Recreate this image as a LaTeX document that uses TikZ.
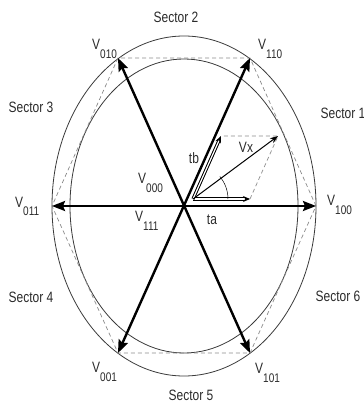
\documentclass[tikz,border=0pt]{standalone}
\usepackage{fontspec}
\setmainfont{Liberation Sans}[FakeStretch=0.8]
\usetikzlibrary{arrows.meta}

\definecolor{figink}{HTML}{2B2B2B}
\definecolor{figrim}{HTML}{3A3A3A}
\definecolor{figdash}{HTML}{8A8A8A}

\newcommand\vlab[1]{V\raisebox{-9pt}{\fontsize{12.5}{12.5}\selectfont #1}}

\begin{document}
\begin{tikzpicture}[
  x=1pt, y=1pt, font=\fontsize{15}{15}\selectfont, text=figink,
  rim/.style={draw=figrim, line width=0.8pt},
  hexedge/.style={draw=figdash, line width=0.7pt, dash pattern=on 4pt off 3pt},
  axis/.style={line width=2.4pt, {Stealth[length=13pt,width=10pt,inset=2pt]}-{Stealth[length=13pt,width=10pt,inset=2pt]}},
  comp/.style={double, double distance=1.2pt, line width=1pt,
               -{Stealth[length=7pt,width=6pt]}},
  res/.style={line width=1pt, -{Stealth[length=8pt,width=6pt]}},
  vl/.style={anchor=base west, inner sep=0pt},
  sec/.style={anchor=base, inner sep=0pt}]

  \useasboundingbox (-184,-196) rectangle (180,206);

  % ---- rims --------------------------------------------------------------
  \draw[rim] (0,0) ellipse [x radius=132, y radius=170];
  \draw[rim] (0,0) ellipse [x radius=114, y radius=147];

  % ---- hexagon vertices --------------------------------------------------
  \coordinate (v100) at (132,0);
  \coordinate (v110) at (66,148);
  \coordinate (v010) at (-66,148);
  \coordinate (v011) at (-132,0);
  \coordinate (v001) at (-66,-147);
  \coordinate (v101) at (66,-147);

  \draw[hexedge] (v100) -- (v110) -- (v010) -- (v011) -- (v001) -- (v101) -- cycle;

  % ---- switching vectors -------------------------------------------------
  \draw[axis] (v011) -- (v100);
  \draw[axis] (v101) -- (v010);
  \draw[axis] (v001) -- (v110);

  % ---- reference vector --------------------------------------------------
  \coordinate (o)  at (9,7);
  \coordinate (ta) at (66,7);
  \coordinate (tb) at (37,70);
  \coordinate (vx) at (94,70);

  \draw[hexedge] (ta) -- (vx) -- (tb);
  \draw[comp] (o) -- (ta);
  \draw[comp] (o) -- (tb);
  \draw[res] (o) -- (vx);
  \draw[line width=0.5pt] ([shift={(0:35)}]o) arc [start angle=0, end angle=40, radius=35];

  % ---- labels ------------------------------------------------------------
  \node[vl] (l010) at (-92,156) {\vlab{010}};
  \node[vl] (l110) at (74,156)  {\vlab{110}};
  \node[vl] (l011) at (-169,-1) {\vlab{011}};
  \node[vl] (l100) at (143,1)   {\vlab{100}};
  \node[vl] (l000) at (-46,23)  {\vlab{000}};
  \node[vl] (l111) at (-49,-15) {\vlab{111}};
  \node[vl] (l001) at (-92,-166) {\vlab{001}};
  \node[vl] (l101) at (71,-167) {\vlab{101}};

  \node (ltb) at (10,48)  {tb};
  \node (lvx) at (62,59)  {Vx};
  \node (lta) at (28,-14) {ta};

  \node[sec] (s1) at (159,88)   {Sector 1};
  \node[sec] (s2) at (-8,183)   {Sector 2};
  \node[sec] (s3) at (-153,93)  {Sector 3};
  \node[sec] (s4) at (-153,-96) {Sector 4};
  \node[sec] (s5) at (7,-194)   {Sector 5};
  \node[sec] (s6) at (154,-95)  {Sector 6};
\end{tikzpicture}
\end{document}
